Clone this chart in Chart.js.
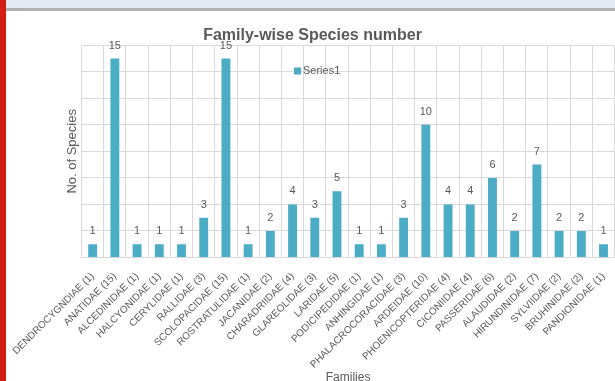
<!DOCTYPE html>
<html>
<head>
<meta charset="utf-8">
<script src="https://cdn.jsdelivr.net/npm/chart.js@4/dist/chart.umd.min.js"></script>
<style>
  html, body { margin: 0; padding: 0; background: #ffffff; overflow: hidden; width: 615px; height: 381px; }
  #wrap { position: absolute; left: 0; top: 0; width: 625px; height: 395px; }
  #topbar { position: absolute; left: 0; top: 0; width: 615px; height: 8px; background: #e3eaf2; z-index: 2; }
  #topline { position: absolute; left: 0; top: 8px; width: 615px; height: 3px; background: #b0b0b0; z-index: 2; }
  #redbar { position: absolute; left: 0; top: 0; width: 6px; height: 381px; background: #d21f16; z-index: 3; }
</style>
</head>
<body>
<div id="wrap"><canvas id="c"></canvas></div>
<div id="topbar"></div>
<div id="topline"></div>
<div id="redbar"></div>
<script>
const categories = [
  "DENDROCYGNDIAE (1)", "ANATIDAE (15)", "ALCEDINIDAE (1)", "HALCYONIDAE (1)",
  "CERYLIDAE (1)", "RALLIDAE (3)", "SCOLOPACIDAE (15)", "ROSTRATULIDAE (1)",
  "JACANIDAE (2)", "CHARADRIIDAE (4)", "GLAREOLIDAE (3)", "LARIDAE (5)",
  "PODICIPEDIDAE (1)", "ANHINGIDAE (1)", "PHALACROCORACIDAE (3)", "ARDEIDAE (10)",
  "PHOENICOPTERIDAE (4)", "CICONIIDAE (4)", "PASSERIDAE (6)", "ALAUDIDAE (2)",
  "HIRUNDINIDAE (7)", "SYLVIIDAE (2)", "BRUHINIDAE (2)", "PANDIONIDAE (1)"
];
const series1 = [1, 15, 1, 1, 1, 3, 15, 1, 2, 4, 3, 5, 1, 1, 3, 10, 4, 4, 6, 2, 7, 2, 2, 1];
const seriesName = "Series1";
const yMin = 0, yMax = 16, yStep = 2;

const TEXT = '#595959';
const BAR = '#4BACC6';
const GRID = '#d9d9d9';
const FONT = "'Liberation Sans', Arial, sans-serif";

const valueLabels = {
  id: 'valueLabels',
  afterDatasetsDraw(chart) {
    const ctx = chart.ctx;
    const meta = chart.getDatasetMeta(0);
    ctx.save();
    ctx.fillStyle = TEXT;
    ctx.font = "11px " + FONT;
    ctx.textAlign = 'center';
    ctx.textBaseline = 'middle';
    meta.data.forEach((bar, i) => {
      ctx.fillText(String(chart.data.datasets[0].data[i]), bar.x, bar.y - 13);
    });
    ctx.restore();
  }
};

const innerLegend = {
  id: 'innerLegend',
  afterDraw(chart) {
    const ctx = chart.ctx;
    const ds = chart.data.datasets[0];
    const x = 294, y = 71;
    ctx.save();
    ctx.fillStyle = ds.backgroundColor;
    ctx.fillRect(x, y - 3.5, 7, 7);
    ctx.fillStyle = TEXT;
    ctx.font = "11px " + FONT;
    ctx.textAlign = 'left';
    ctx.textBaseline = 'middle';
    ctx.fillText(ds.label, x + 9, y);
    ctx.restore();
  }
};

new Chart(document.getElementById('c'), {
  type: 'bar',
  data: {
    labels: categories,
    datasets: [{
      label: seriesName,
      data: series1,
      backgroundColor: BAR,
      borderWidth: 0,
      barPercentage: 0.4,
      categoryPercentage: 1.0
    }]
  },
  options: {
    responsive: true,
    maintainAspectRatio: false,
    animation: false,
    devicePixelRatio: 1,
    layout: { padding: { left: 0, right: 0, top: 0, bottom: 0 } },
    plugins: {
      legend: { display: false },
      tooltip: { enabled: false },
      title: {
        display: true,
        text: 'Family-wise Species number',
        color: TEXT,
        font: { family: FONT, size: 16, weight: 'bold', lineHeight: 1.2 },
        padding: { top: 26, bottom: 0 }
      }
    },
    scales: {
      x: {
        grid: { color: GRID, lineWidth: 1, drawTicks: false, offset: true },
        border: { color: GRID, width: 1 },
        ticks: {
          color: TEXT,
          font: { family: FONT, size: 10 },
          autoSkip: false,
          minRotation: 45,
          maxRotation: 45,
          padding: 13
        },
        title: {
          display: true,
          text: 'Families',
          color: TEXT,
          font: { family: FONT, size: 12 },
          padding: { top: 0, bottom: 10 }
        },
        afterFit(scale) { scale.height = 137.5; }
      },
      y: {
        min: yMin,
        max: yMax,
        ticks: { stepSize: yStep, display: false },
        grid: { color: GRID, lineWidth: 1, drawTicks: false },
        border: { display: false },
        title: {
          display: true,
          text: 'No. of Species',
          color: TEXT,
          font: { family: FONT, size: 13 },
          padding: { top: 64, bottom: 0 }
        },
        afterFit(scale) { scale.width = 81; }
      }
    }
  },
  plugins: [valueLabels, innerLegend]
});
</script>
</body>
</html>
